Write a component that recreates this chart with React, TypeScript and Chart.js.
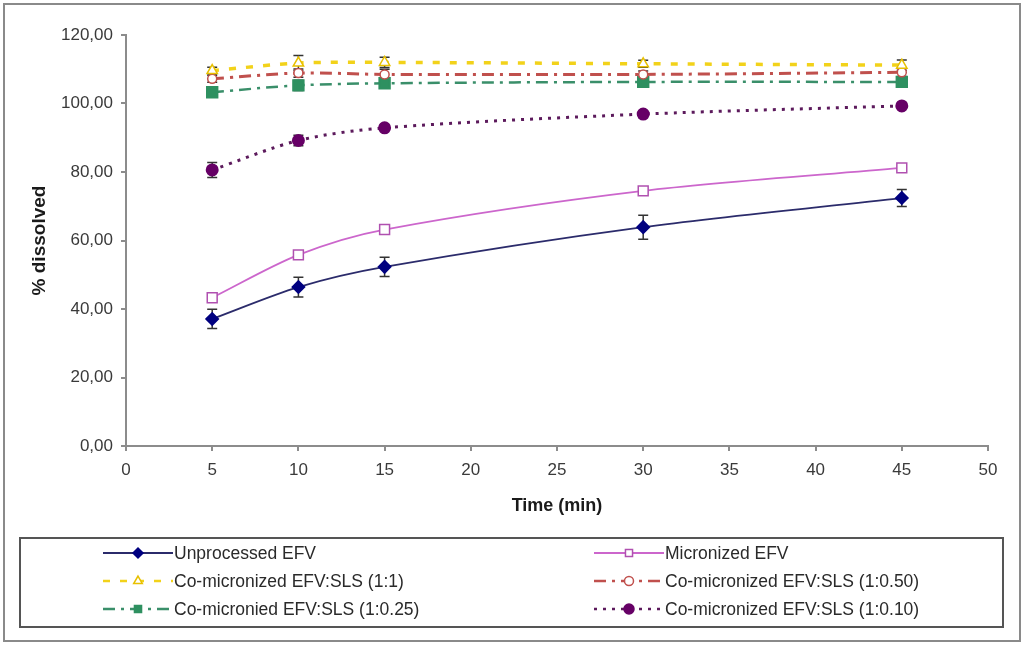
import React, { useEffect, useRef } from 'react';
import { Chart, registerables } from 'chart.js';
import { drawPoint } from 'chart.js/helpers';

Chart.register(...registerables);

// Dissolution profiles, % dissolved vs time (min)
const times = [5, 10, 15, 30, 45];

const unprocessed = [37.1, 46.4, 52.3, 63.9, 72.4];
const unprocessedErr = [2.8, 2.9, 2.8, 3.5, 2.5];

const micronized = [43.3, 55.8, 63.2, 74.5, 81.2];
const micronizedErr = [0.5, 0.5, 0.8, 0.5, 0.5];

const coMic1to1 = [109.6, 111.8, 112.0, 111.6, 111.2];
const coMic1to1Err = [1.0, 2.2, 1.5, 1.0, 1.5];

const coMic1to050 = [107.2, 108.9, 108.5, 108.5, 109.1];
const coMic1to050Err = [1.0, 1.2, 1.5, 1.0, 1.2];

const coMic1to025 = [103.3, 105.3, 105.9, 106.3, 106.3];
const coMic1to025Err = [1.0, 1.5, 1.0, 1.0, 1.0];

const coMic1to010 = [80.6, 89.2, 92.9, 96.9, 99.3];
const coMic1to010Err = [2.2, 1.5, 0.8, 1.0, 0.5];

const legendLabels = [
  'Unprocessed EFV',
  'Micronized EFV',
  'Co-micronized EFV:SLS (1:1)',
  'Co-micronized EFV:SLS (1:0.50)',
  'Co-micronied EFV:SLS (1:0.25)',
  'Co-micronized EFV:SLS (1:0.10)',
];

const FONT = '"Liberation Sans", Arial, sans-serif';

const toPoints = (ys: number[]) => times.map((t, i) => ({ x: t, y: ys[i] }));

// white page + thin grey frame around the whole figure
const framePlugin = {
  id: 'frame',
  beforeDraw(chart: any) {
    const { ctx, width, height } = chart;
    ctx.save();
    ctx.fillStyle = '#ffffff';
    ctx.fillRect(0, 0, width, height);
    ctx.strokeStyle = '#8a8a8a';
    ctx.lineWidth = 2;
    ctx.strokeRect(4, 4, width - 8, height - 9);
    ctx.restore();
  },
};

// vertical error bars with caps, drawn under the markers
const errorBarPlugin = {
  id: 'errorBars',
  beforeDatasetsDraw(chart: any) {
    const { ctx } = chart;
    const yScale = chart.scales.y;
    ctx.save();
    ctx.strokeStyle = '#333333';
    ctx.lineWidth = 1.5;
    chart.data.datasets.forEach((ds: any, di: number) => {
      const meta = chart.getDatasetMeta(di);
      const errs: number[] = ds.errors || [];
      meta.data.forEach((pt: any, i: number) => {
        const v = ds.data[i].y;
        const e = errs[i] || 0;
        if (!e) return;
        const top = yScale.getPixelForValue(v + e);
        const bot = yScale.getPixelForValue(v - e);
        ctx.beginPath();
        ctx.moveTo(pt.x, top);
        ctx.lineTo(pt.x, bot);
        ctx.moveTo(pt.x - 5, top);
        ctx.lineTo(pt.x + 5, top);
        ctx.moveTo(pt.x - 5, bot);
        ctx.lineTo(pt.x + 5, bot);
        ctx.stroke();
      });
    });
    ctx.restore();
  },
};

// boxed two-column legend under the plot
const boxLegendPlugin = {
  id: 'boxLegend',
  afterDraw(chart: any) {
    const { ctx } = chart;
    ctx.save();
    ctx.strokeStyle = '#555555';
    ctx.lineWidth = 2;
    ctx.strokeRect(20, 538, 983, 89);

    const colX = [103, 594];
    const rowY = [553, 581, 609];
    ctx.font = `17.5px ${FONT}`;
    ctx.textBaseline = 'middle';
    chart.data.datasets.forEach((ds: any, i: number) => {
      const x0 = colX[i % 2];
      const y = rowY[Math.floor(i / 2)];
      ctx.save();
      ctx.strokeStyle = ds.borderColor;
      ctx.lineWidth = Math.min(ds.borderWidth, 2.5);
      ctx.setLineDash(ds.borderDash || []);
      ctx.beginPath();
      ctx.moveTo(x0, y);
      ctx.lineTo(x0 + 70, y);
      ctx.stroke();
      ctx.restore();
      ctx.save();
      ctx.fillStyle = ds.pointBackgroundColor;
      ctx.strokeStyle = ds.pointBorderColor;
      ctx.lineWidth = 1.5;
      drawPoint(
        ctx,
        { pointStyle: ds.pointStyle, radius: Math.min(ds.pointRadius, 5), rotation: 0, borderWidth: 1.5 },
        x0 + 35,
        y
      );
      ctx.restore();
      ctx.fillStyle = '#2a2a2a';
      ctx.fillText(legendLabels[i], x0 + 71, y + 1);
    });
    ctx.restore();
  },
};

const App: React.FC = () => {
  const canvasRef = useRef<HTMLCanvasElement>(null);
  const chartRef = useRef<Chart | null>(null);

  useEffect(() => {
    if (!canvasRef.current) return;
    if (chartRef.current) chartRef.current.destroy();

    const axisGrey = '#8c8c8c';
    const tickFont = { family: FONT, size: 17 };

    chartRef.current = new Chart(canvasRef.current, {
      type: 'line',
      data: {
        datasets: [
          {
            label: legendLabels[0],
            data: toPoints(unprocessed),
            errors: unprocessedErr,
            borderColor: '#2b2b6b',
            borderWidth: 1.8,
            pointStyle: 'rectRot',
            pointRadius: 6,
            pointBackgroundColor: '#000080',
            pointBorderColor: '#000080',
            tension: 0.3,
          },
          {
            label: legendLabels[1],
            data: toPoints(micronized),
            errors: micronizedErr,
            borderColor: '#cc66cc',
            borderWidth: 1.8,
            pointStyle: 'rect',
            pointRadius: 7,
            pointBackgroundColor: '#ffffff',
            pointBorderColor: '#b050b0',
            pointBorderWidth: 1.5,
            tension: 0.3,
          },
          {
            label: legendLabels[2],
            data: toPoints(coMic1to1),
            errors: coMic1to1Err,
            borderColor: '#f2d21a',
            borderWidth: 3.5,
            borderDash: [7, 10],
            pointStyle: 'triangle',
            pointRadius: 6,
            pointBackgroundColor: '#ffffff',
            pointBorderColor: '#e8c000',
            pointBorderWidth: 1.5,
            tension: 0.3,
          },
          {
            label: legendLabels[3],
            data: toPoints(coMic1to050),
            errors: coMic1to050Err,
            borderColor: '#c0504d',
            borderWidth: 3,
            borderDash: [12, 6, 3, 6],
            pointStyle: 'circle',
            pointRadius: 4.5,
            pointBackgroundColor: '#ffffff',
            pointBorderColor: '#c0504d',
            pointBorderWidth: 1.5,
            tension: 0.3,
          },
          {
            label: legendLabels[4],
            data: toPoints(coMic1to025),
            errors: coMic1to025Err,
            borderColor: '#3a8f6a',
            borderWidth: 2.5,
            borderDash: [12, 6, 3, 6],
            pointStyle: 'rect',
            pointRadius: 7,
            pointBackgroundColor: '#2e9060',
            pointBorderColor: '#2e9060',
            tension: 0.3,
          },
          {
            label: legendLabels[5],
            data: toPoints(coMic1to010),
            errors: coMic1to010Err,
            borderColor: '#5c1a5c',
            borderWidth: 3,
            borderDash: [3, 6],
            pointStyle: 'circle',
            pointRadius: 5,
            pointBackgroundColor: '#660066',
            pointBorderColor: '#660066',
            tension: 0.3,
          },
        ] as any,
      },
      options: {
        responsive: false,
        animation: false,
        layout: { padding: { left: 0, right: 36, top: 35, bottom: 0 } },
        plugins: {
          legend: { display: false },
          tooltip: { enabled: false },
        },
        scales: {
          x: {
            type: 'linear',
            min: 0,
            max: 50,
            ticks: { stepSize: 5, font: tickFont, color: '#3a3a3a', padding: 9, maxRotation: 0 },
            grid: { drawOnChartArea: false, drawTicks: true, tickLength: 5, color: axisGrey, lineWidth: 2 },
            border: { color: axisGrey, width: 2 },
            title: {
              display: true,
              text: 'Time (min)',
              font: { family: FONT, size: 18, weight: 'bold' },
              color: '#1a1a1a',
              padding: { top: 0, bottom: 129 },
            },
            afterFit: (scale: any) => {
              scale.height = 200;
            },
          },
          y: {
            min: 0,
            max: 120,
            ticks: {
              stepSize: 20,
              font: tickFont,
              color: '#3a3a3a',
              padding: 8,
              callback: (v: any) => Number(v).toFixed(2).replace('.', ','),
            },
            grid: { drawOnChartArea: false, drawTicks: true, tickLength: 5, color: axisGrey, lineWidth: 2 },
            border: { color: axisGrey, width: 2 },
            title: {
              display: true,
              text: '% dissolved',
              font: { family: FONT, size: 19, weight: 'bold' },
              color: '#1a1a1a',
              padding: { top: 28, bottom: 0 },
            },
            afterFit: (scale: any) => {
              scale.width = 126;
            },
          },
        },
      } as any,
      plugins: [framePlugin, errorBarPlugin, boxLegendPlugin],
    });

    return () => {
      if (chartRef.current) {
        chartRef.current.destroy();
        chartRef.current = null;
      }
    };
  }, []);

  return (
    <div style={{ position: 'absolute', left: 0, top: 0, width: 1024, height: 646 }}>
      <canvas ref={canvasRef} width={1024} height={646} style={{ width: 1024, height: 646 }} />
    </div>
  );
};

export default App;
